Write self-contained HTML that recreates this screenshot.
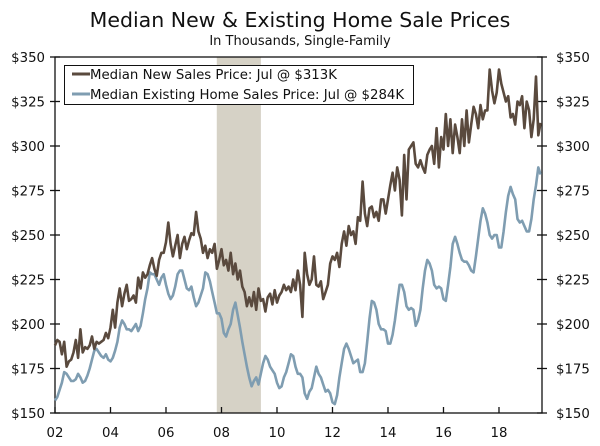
<!DOCTYPE html>
<html><head><meta charset="utf-8"><style>
body{margin:0;background:#fff;}
svg text{font-family:"DejaVu Sans","Liberation Sans",sans-serif;fill:#111;}
</style></head><body>
<svg id="chart" width="600" height="441" viewBox="0 0 600 441" xmlns="http://www.w3.org/2000/svg">
<text x="300" y="27" text-anchor="middle" font-size="20.5">Median New &amp; Existing Home Sale Prices</text>
<text x="300" y="45" text-anchor="middle" font-size="13">In Thousands, Single-Family</text>
<rect id="rec" y="57" fill="#d6d2c6"/>
<g id="axes"></g>
<g id="series"></g>
<g>
<rect x="64.5" y="65.5" width="349" height="39" fill="#fff" stroke="#111" stroke-width="1"/>
<line x1="72" y1="74" x2="90" y2="74" stroke="#5a4a3e" stroke-width="3"/>
<text x="90" y="79" font-size="13.3">Median New Sales Price: Jul @ $313K</text>
<line x1="72" y1="94" x2="90" y2="94" stroke="#7f9db1" stroke-width="3"/>
<text x="90" y="99" font-size="13.3">Median Existing Home Sales Price: Jul @ $284K</text>
</g>
</svg>
<script>
const yTicks=[150,175,200,225,250,275,300,325,350];
const xTickYears=[2002,2004,2006,2008,2010,2012,2014,2016,2018];
const xTickLabels=["02","04","06","08","10","12","14","16","18"];
const recession=[2007.83,2009.42];
const startYear=2002;
const newSales=[
188,191,190,183,190,176,179,180,184,191,181,197,
184,187,186,188,193,186,190,189,190,191,195,192,
198,208,198,212,220,210,217,222,213,214,216,212,
226,220,229,226,228,233,237,231,227,236,240,240,
246,257,245,238,244,250,237,245,249,242,247,251,
250,263,252,248,240,244,237,242,240,245,231,236,
242,233,236,230,240,228,234,225,230,221,218,210,
215,210,218,208,220,213,214,207,215,217,211,219,
212,216,218,222,219,221,218,225,219,230,222,204,
240,228,222,225,238,222,221,224,214,218,222,234,
238,236,240,232,245,252,244,255,250,252,245,260,
258,280,262,255,265,266,260,263,258,270,270,262,
270,278,285,275,288,281,261,295,270,298,300,302,
290,288,292,288,285,295,298,300,290,310,288,305,
298,318,300,315,296,312,305,296,315,300,320,302,
312,322,318,310,323,315,320,320,343,331,324,330,
343,335,330,325,328,316,318,312,325,323,328,310,
325,320,305,315,339,306,313];
const existingSales=[
157,159,163,167,173,172,170,168,168,169,172,170,
167,168,171,175,180,185,186,184,182,181,183,180,
179,181,185,190,198,202,200,197,197,196,198,200,
196,199,206,214,220,229,228,228,225,222,226,228,
222,217,214,216,221,228,230,230,225,220,219,221,
215,210,212,216,220,229,228,224,218,212,206,206,
203,195,193,197,200,208,212,205,198,190,183,176,
170,165,168,170,166,172,178,182,180,176,174,172,
167,164,165,170,173,178,183,182,176,172,172,170,
161,158,162,164,170,176,172,170,166,162,163,161,
156,155,160,170,178,186,189,186,182,178,179,180,
173,173,178,190,203,213,212,208,200,197,197,196,
189,189,194,202,212,222,222,218,210,208,209,208,
199,202,208,220,230,236,234,230,222,220,221,220,
214,213,222,232,245,249,245,240,236,235,235,233,
230,229,238,248,258,265,262,257,250,248,250,250,
243,243,252,263,272,277,273,270,259,257,258,255,
252,252,259,270,278,288,284];

const L=55,R=542,T=57,B=413;
const x=yr=>L+(yr-2002)*(R-L)/17.55;
const y=v=>B-(v-150)*(B-T)/200;
const NS="http://www.w3.org/2000/svg";
function mk(tag,attrs,parent){const e=document.createElementNS(NS,tag);for(const k in attrs)e.setAttribute(k,attrs[k]);parent.appendChild(e);return e;}
const rec=document.getElementById('rec');
rec.setAttribute('x',x(recession[0]));rec.setAttribute('width',x(recession[1])-x(recession[0]));rec.setAttribute('height',B-T);
const ax=document.getElementById('axes');
let e=mk('rect',{x:L,y:T,width:R-L,height:B-T,fill:'none',stroke:'#111','stroke-width':1.3},ax);


yTicks.forEach(v=>{
 let t=mk('line',{x1:L-5,x2:L+5,y1:y(v),y2:y(v),stroke:'#111','stroke-width':1.3},ax);
 
 
 t=mk('line',{x1:R-5,x2:R+5,y1:y(v),y2:y(v),stroke:'#111','stroke-width':1.3},ax);
 
 
 let l=mk('text',{x:L-10,y:y(v)+5,'text-anchor':'end','font-size':13.3},ax);l.textContent='$'+v;
 
 
 l=mk('text',{x:R+14,y:y(v)+5,'font-size':13.3},ax);l.textContent='$'+v;
 
 
});
xTickYears.forEach((yr,i)=>{
 let t=mk('line',{x1:x(yr),x2:x(yr),y1:B-6,y2:B,stroke:'#111','stroke-width':1.3},ax);
 
 
 let l=mk('text',{x:x(yr),y:B+24,'text-anchor':'middle','font-size':13.3},ax);l.textContent=xTickLabels[i];
 
 
});
const sg=document.getElementById('series');
function line(arr,color,name){
 const d=arr.map((v,i)=>(i?'L':'M')+x(startYear+i/12).toFixed(1)+','+y(v).toFixed(1)).join('');
 const p=mk('path',{d:d,fill:'none',stroke:color,'stroke-width':2.6,'stroke-linejoin':'round'},sg);
 
 
}
line(existingSales,'#7f9db1','existing-sales-line');
line(newSales,'#5a4a3e','new-sales-line');
</script>
</body></html>
